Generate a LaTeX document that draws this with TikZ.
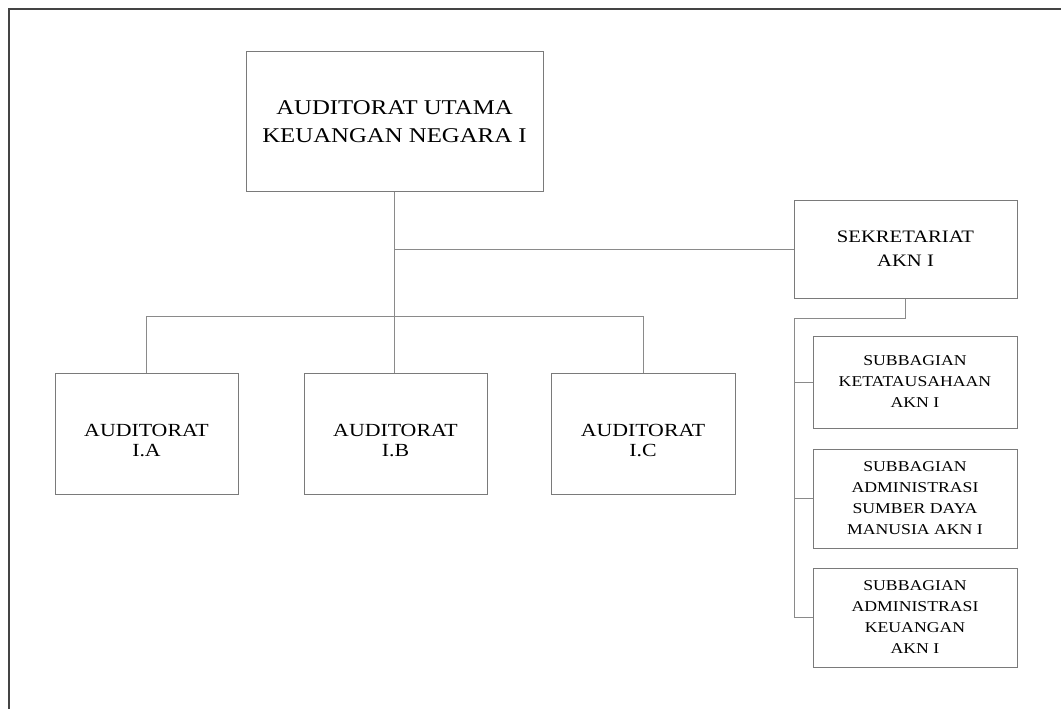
\documentclass[tikz,border=0pt]{standalone}
\usepackage{fontspec}
\setmainfont{Liberation Serif}[FakeStretch=1.18]
\definecolor{boxgray}{HTML}{7A7A7A}
\definecolor{linegray}{HTML}{8A8A8A}
\definecolor{framegray}{HTML}{444444}
\newcommand{\lowstrut}{\rule{0pt}{27pt}}
\begin{document}
\begin{tikzpicture}[x=1pt,y=-1pt,
  box/.style={draw=boxgray, line width=1pt, inner sep=0pt, align=center, text=black},
  conn/.style={draw=linegray, line width=1pt},
  topfont/.style={font=\fontsize{21}{28}\selectfont},
  audfont/.style={font=\fontsize{18.5}{20}\selectfont},
  sekfont/.style={font=\fontsize{17.5}{24}\selectfont},
  subfont/.style={font=\fontsize{15}{21}\selectfont}]
\useasboundingbox (0,0) rectangle (1061,709);
\draw[framegray, line width=1.5pt] (1061,9) -- (9,9) -- (9,709);

\node[box, topfont, minimum width=297pt, minimum height=139pt] (top) at (394.5,121.5) {AUDITORAT UTAMA\\KEUANGAN NEGARA I};
\node[box, sekfont, minimum width=223pt, minimum height=98pt] (sek) at (905.5,249) {SEKRETARIAT\\AKN I};
\node[box, audfont, minimum width=183pt, minimum height=121pt] (ia) at (146.5,433.5) {\lowstrut AUDITORAT\\I.A};
\node[box, audfont, minimum width=183pt, minimum height=121pt] (ib) at (395.5,433.5) {\lowstrut AUDITORAT\\I.B};
\node[box, audfont, minimum width=184pt, minimum height=121pt] (ic) at (643,433.5) {\lowstrut AUDITORAT\\I.C};
\node[box, subfont, minimum width=204pt, minimum height=92pt] (s1) at (915,382) {SUBBAGIAN\\KETATAUSAHAAN\\AKN I};
\node[box, subfont, minimum width=204pt, minimum height=99pt] (s2) at (915,498.5) {SUBBAGIAN\\ADMINISTRASI\\SUMBER DAYA\\MANUSIA AKN I};
\node[box, subfont, minimum width=204pt, minimum height=99pt] (s3) at (915,617.5) {SUBBAGIAN\\ADMINISTRASI\\KEUANGAN\\AKN I};

\coordinate (hbar) at (395,316);
\coordinate (sbar) at (794,318);

\draw[conn] (top.south) -- (top.south |- ib.north);
\draw[conn] (top.south |- sek.west) -- (sek.west);
\draw[conn] (ia.north) -- (ia.north |- hbar) -- (ic.north |- hbar) -- (ic.north);
\draw[conn] (sek.south) -- (sek.south |- sbar) -- (sbar) |- (s3.west);
\draw[conn] (s1.west) -- (s1.west -| sbar);
\draw[conn] (s2.west) -- (s2.west -| sbar);
\end{tikzpicture}
\end{document}
